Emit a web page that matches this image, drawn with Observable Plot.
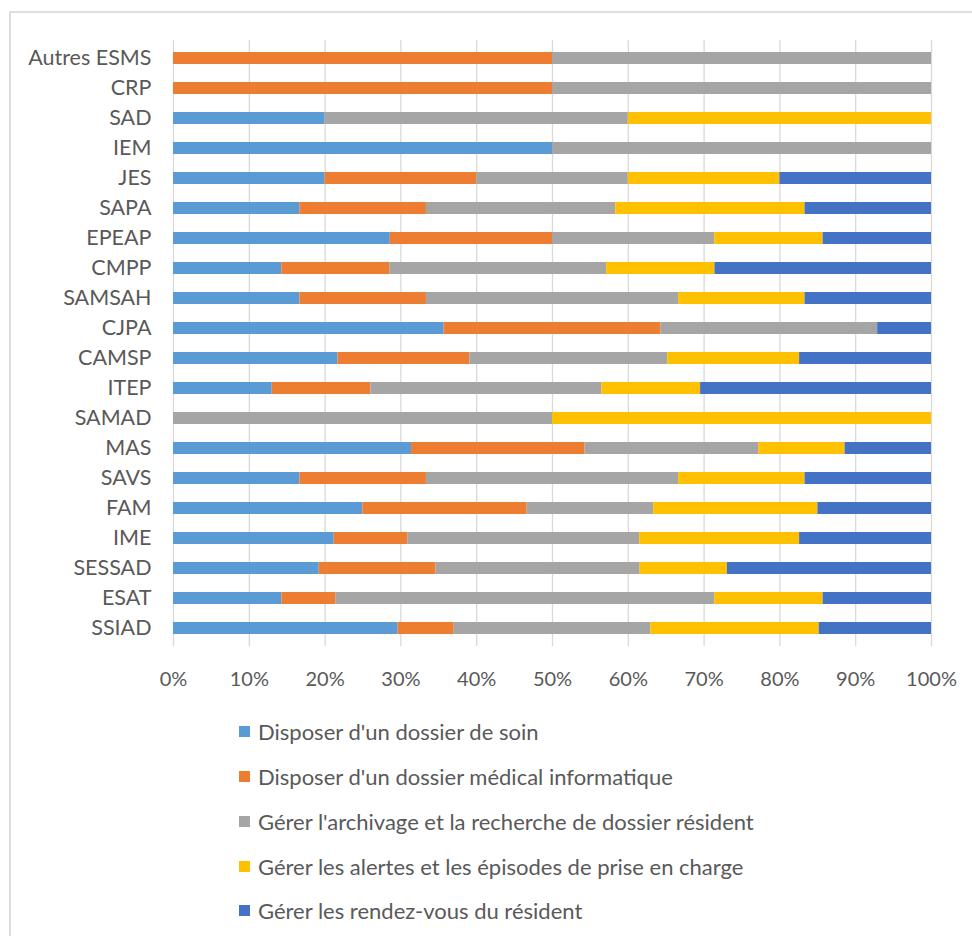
<!DOCTYPE html>
<html>
<head>
<meta charset="utf-8">
<script src="https://cdn.jsdelivr.net/npm/d3@7"></script>
<script src="https://cdn.jsdelivr.net/npm/@observablehq/plot@0.6"></script>
<style>
  html, body { margin: 0; padding: 0; background: #fff; }
  body { width: 972px; height: 936px; position: relative; overflow: hidden; font-family: Lato, "Open Sans", sans-serif; }
  #frame { position: absolute; left: 9px; top: 11px; width: 980px; height: 940px; border: 2px solid #dedede; box-sizing: border-box; }
  #chart { position: absolute; left: 0; top: 0; }
  #legend { position: absolute; left: 0; top: 0; }
  .item { position: absolute; left: 239px; height: 26px; display: flex; align-items: center; color: #595959; font-size: 22px; white-space: nowrap; }
  .sw { width: 11px; height: 11px; margin-right: 8px; }
</style>
</head>
<body>
<div id="frame"></div>
<div id="chart"></div>
<div id="legend"></div>
<script>
const categories = ["Autres ESMS","CRP","SAD","IEM","JES","SAPA","EPEAP","CMPP","SAMSAH","CJPA","CAMSP","ITEP","SAMAD","MAS","SAVS","FAM","IME","SESSAD","ESAT","SSIAD"];
const seriesNames = [
  "Disposer d'un dossier de soin",
  "Disposer d'un dossier médical informatique",
  "Gérer l'archivage et la recherche de dossier résident",
  "Gérer les alertes et les épisodes de prise en charge",
  "Gérer les rendez-vous du résident"
];
const seriesColors = ["#5B9BD5","#ED7D31","#A5A5A5","#FFC000","#4472C4"];
const soin      = [0,0,20,50,20,16.7,28.6,14.3,16.7,35.7,21.7,13.0,0,31.4,16.7,25.0,21.2,19.2,14.3,29.6];
const medical   = [50,50,0,0,20,16.7,21.4,14.3,16.7,28.6,17.4,13.0,0,22.9,16.7,21.7,9.7,15.4,7.1,7.4];
const archivage = [50,50,40,50,20,25.0,21.4,28.6,33.3,28.6,26.1,30.4,50,22.9,33.3,16.7,30.6,26.9,50,25.9];
const alertes   = [0,0,40,0,20,25.0,14.3,14.3,16.7,0,17.4,13.0,50,11.4,16.7,21.7,21.1,11.5,14.3,22.2];
const rdv       = [0,0,0,0,20,16.7,14.3,28.6,16.7,7.1,17.4,30.4,0,11.4,16.7,15.0,17.4,26.9,14.3,14.8];
const xTicks = [0,0.1,0.2,0.3,0.4,0.5,0.6,0.7,0.8,0.9,1];

const seriesValues = [soin, medical, archivage, alertes, rdv];
const data = [];
seriesValues.forEach((vals, si) => {
  categories.forEach((c, ci) => {
    data.push({cat: c, series: seriesNames[si], value: vals[ci]});
  });
});

const chart = Plot.plot({
  width: 972,
  height: 700,
  marginLeft: 173,
  marginRight: 41,
  marginTop: 40,
  marginBottom: 54,
  style: {fontSize: "20px", fontFamily: "Lato, 'Open Sans', sans-serif", color: "#595959", background: "transparent"},
  x: {domain: [0, 1], label: null},
  y: {domain: categories, paddingInner: 0.6, paddingOuter: 0.3, label: null},
  color: {domain: seriesNames, range: seriesColors},
  marks: [
    Plot.gridX(xTicks, {stroke: "#d9d9d9", strokeOpacity: 1, strokeWidth: 1.3}),
    Plot.barX(data, Plot.stackX({x: "value", y: "cat", fill: "series", offset: "normalize", order: seriesNames, filter: d => d.value > 0})),
    Plot.axisX(xTicks, {tickSize: 0, tickPadding: 25, tickFormat: d3.format(".0%"), fill: "#595959", fontSize: 20, label: null}),
    Plot.axisY({tickSize: 0, tickPadding: 22, fill: "#595959", fontSize: 21.5, label: null})
  ]
});
document.getElementById("chart").appendChild(chart);

const legend = d3.select("#legend");
const centers = [731, 776, 821, 866, 910];
seriesNames.forEach((name, i) => {
  const it = legend.append("div").attr("class", "item").style("top", (centers[i] - 13) + "px");
  it.append("div").attr("class", "sw").style("background", seriesColors[i]);
  it.append("span").text(name);
});
</script>
</body>
</html>
